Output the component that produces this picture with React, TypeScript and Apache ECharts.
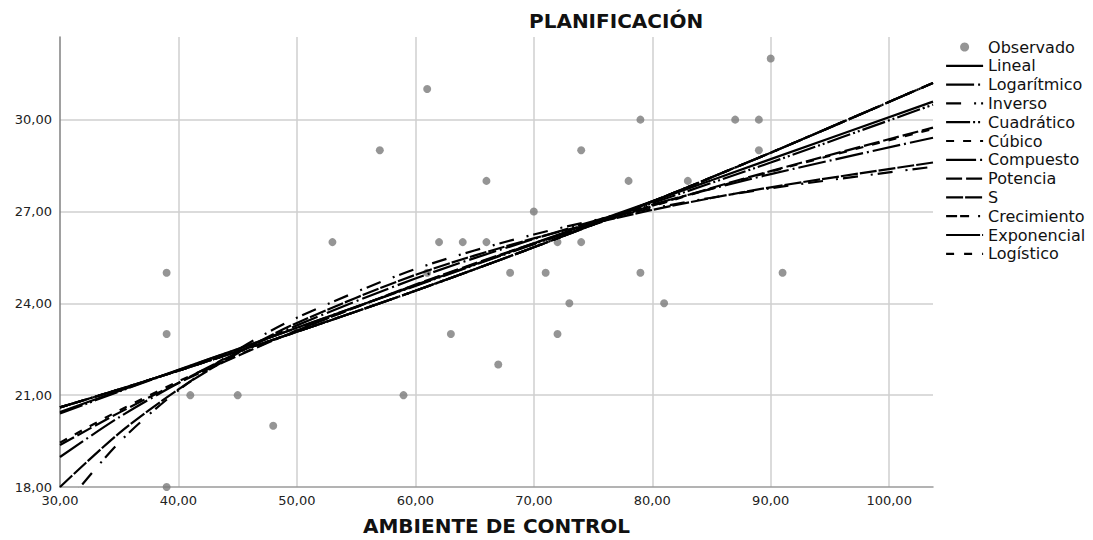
import React, { useEffect, useRef } from "react";
import * as echarts from "echarts";

const TITLE = "PLANIFICACIÓN";
const X_NAME = "AMBIENTE DE CONTROL";

// Observed points (AMBIENTE DE CONTROL, PLANIFICACIÓN)
const OBS_X = [39, 39, 39, 41, 45, 48, 53, 57, 59, 61, 61, 62, 63, 64, 66, 66, 67, 68, 70, 71, 72, 72, 73, 74, 74, 78, 79, 79, 81, 83, 87, 89, 89, 90, 91];
const OBS_Y = [25, 23, 18, 21, 21, 20, 26, 29, 21, 31, 25, 26, 23, 26, 28, 26, 22, 25, 27, 25, 26, 23, 24, 29, 26, 28, 30, 25, 24, 28, 30, 30, 29, 32, 25];

// Fitted curves at these x values
const FIT_X = [30, 35, 40, 45, 50, 60, 70, 80, 90, 103.7];
const LINEAL = [20.45, 21.14, 21.83, 22.51, 23.2, 24.58, 25.96, 27.33, 28.71, 30.59];
const LOGARITMICO = [18.98, 20.28, 21.4, 22.39, 23.28, 24.81, 26.1, 27.23, 28.22, 29.41];
const INVERSO = [17.2, 19.46, 21.16, 22.48, 23.53, 25.12, 26.25, 27.1, 27.76, 28.46];
const CUADRATICO = [20.4, 21.12, 21.82, 22.5, 23.2, 24.57, 25.93, 27.27, 28.6, 30.49];
const CUBICO = [19.45, 20.5, 21.45, 22.3, 23.12, 24.6, 25.94, 27.17, 28.3, 29.7];
const COMPUESTO = [20.6, 21.19, 21.8, 22.43, 23.07, 24.41, 25.83, 27.33, 28.92, 31.2];
const POTENCIA = [19.37, 20.43, 21.4, 22.28, 23.11, 24.61, 25.96, 27.19, 28.32, 29.74];
const S_CURVA = [18.0, 19.76, 21.19, 22.37, 23.36, 24.93, 26.12, 27.05, 27.79, 28.6];
const CRECIMIENTO = [20.6, 21.19, 21.8, 22.43, 23.07, 24.41, 25.83, 27.33, 28.92, 31.2];
const EXPONENCIAL = [20.6, 21.19, 21.8, 22.43, 23.07, 24.41, 25.83, 27.33, 28.92, 31.2];
const LOGISTICO = [20.6, 21.19, 21.8, 22.43, 23.07, 24.41, 25.83, 27.33, 28.92, 31.2];

const MODELS: { name: string; values: number[]; dash: any }[] = [
  { name: "Lineal", values: LINEAL, dash: "solid" },
  { name: "Logarítmico", values: LOGARITMICO, dash: [28, 4, 2, 4] },
  { name: "Inverso", values: INVERSO, dash: [15, 13, 2, 5] },
  { name: "Cuadrático", values: CUADRATICO, dash: [24, 3, 2, 3, 2, 3] },
  { name: "Cúbico", values: CUBICO, dash: [8, 9] },
  { name: "Compuesto", values: COMPUESTO, dash: [30, 4, 2, 4] },
  { name: "Potencia", values: POTENCIA, dash: [16, 4] },
  { name: "S", values: S_CURVA, dash: [17, 2] },
  { name: "Crecimiento", values: CRECIMIENTO, dash: [11, 3, 9, 9, 2, 3] },
  { name: "Exponencial", values: EXPONENCIAL, dash: [34, 2, 2, 2] },
  { name: "Logístico", values: LOGISTICO, dash: [8, 10] },
];

const X_MIN = 30;
const X_MAX = 103.7;
const Y_MIN = 18;
const Y_MAX = 32.7;

const FONT = "DejaVu Sans";
const fmt = (v: number) => v.toFixed(2).replace(".", ",");

export default function App() {
  const ref = useRef<HTMLDivElement>(null);

  useEffect(() => {
    if (!ref.current) return;
    const chart = echarts.init(ref.current, null, { renderer: "svg" });

    const lineSeries = MODELS.map((m) => ({
      name: m.name,
      type: "line",
      data: FIT_X.map((x, i) => [x, m.values[i]]),
      smooth: 0.3,
      symbol: "none",
      showSymbol: false,
      clip: true,
      z: 3,
      lineStyle: { color: "#000", width: 2.2, type: m.dash },
      itemStyle: { color: "#000" },
    }));

    chart.setOption({
      animation: false,
      backgroundColor: "#fff",
      textStyle: { fontFamily: FONT },
      title: {
        text: TITLE,
        left: 529,
        top: 10,
        padding: 0,
        textStyle: { fontFamily: FONT, fontWeight: "bold", fontSize: 20, lineHeight: 22, color: "#111" },
      },
      legend: {
        orient: "vertical",
        left: 945,
        top: 39,
        padding: 0,
        itemWidth: 37,
        itemHeight: 9,
        itemGap: 2.8,
        textStyle: { fontFamily: FONT, fontSize: 16, lineHeight: 16, color: "#111" },
        data: [
          { name: "Observado", icon: "circle", itemStyle: { color: "#7a7a7a" } },
          ...MODELS.map((m) => ({
            name: m.name,
            itemStyle: { opacity: 0 },
            lineStyle: { color: "#000", width: 2.2, type: m.dash },
          })),
        ],
      },
      grid: { left: 60, right: 160, top: 37, bottom: 53, containLabel: false, outerBoundsMode: "none" },
      xAxis: {
        type: "value",
        min: X_MIN,
        max: X_MAX,
        interval: 10,
        name: X_NAME,
        nameLocation: "middle",
        nameGap: 29,
        nameTextStyle: { fontFamily: FONT, fontWeight: "bold", fontSize: 20, lineHeight: 20, color: "#111" },
        axisLine: { show: true, onZero: false, lineStyle: { color: "#9a9a9a", width: 1.5 } },
        axisTick: { show: false },
        axisLabel: {
          margin: 7,
          fontFamily: FONT,
          fontSize: 13,
          color: "#222",
          showMaxLabel: false,
          formatter: (v: number) => fmt(v),
        },
        splitLine: { show: true, showMinLine: false, showMaxLine: false, lineStyle: { color: "#cfcfcf", width: 1.5 } },
      },
      yAxis: {
        type: "value",
        min: Y_MIN,
        max: Y_MAX,
        interval: 3,
        axisLine: { show: true, onZero: false, lineStyle: { color: "#808080", width: 1.5 } },
        axisTick: { show: false },
        axisLabel: {
          margin: 8,
          fontFamily: FONT,
          fontSize: 13,
          color: "#222",
          showMaxLabel: false,
          formatter: (v: number) => fmt(v),
        },
        splitLine: { show: true, showMinLine: false, showMaxLine: false, lineStyle: { color: "#cfcfcf", width: 1.5 } },
      },
      series: [
        {
          name: "Observado",
          type: "scatter",
          data: OBS_X.map((x, i) => [x, OBS_Y[i]]),
          symbol: "circle",
          symbolSize: 8,
          itemStyle: { color: "#7a7a7a" },
          z: 2,
        },
        ...lineSeries,
      ],
    });

    return () => chart.dispose();
  }, []);

  return (
    <div
      ref={ref}
      style={{ position: "fixed", left: 0, top: 0, width: 1093, height: 540, background: "#fff" }}
    />
  );
}
